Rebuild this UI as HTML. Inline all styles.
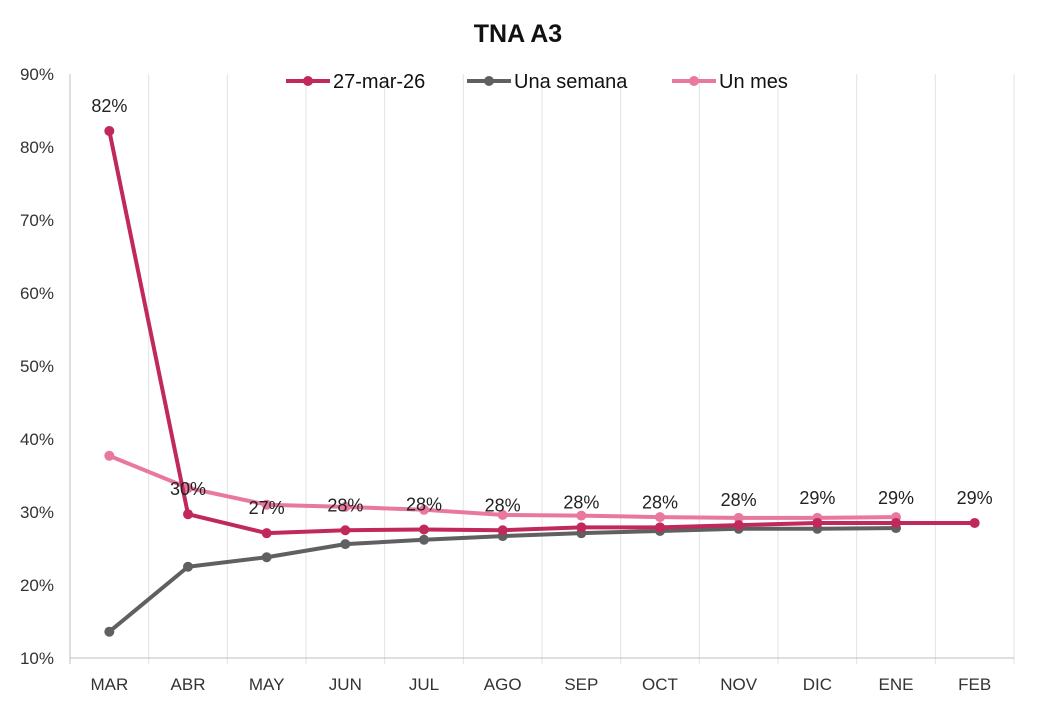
<!DOCTYPE html>
<html><head><meta charset="utf-8"><style>
body{margin:0;background:#fff;font-family:"Liberation Sans",sans-serif}
svg text{font-family:"Liberation Sans",sans-serif}
</style></head><body>
<svg id="c" width="1037" height="707" xmlns="http://www.w3.org/2000/svg">
<rect width="1037" height="707" fill="#fff"/>
<text x="518" y="42" text-anchor="middle" font-size="25" font-weight="bold" fill="#111">TNA A3</text>
<g id="grid"></g><g id="axes"></g><g id="series"></g><g id="labels"></g>
<g>
<g><line x1="286" y1="81" x2="330" y2="81" stroke="#C0295A" stroke-width="4"/><circle cx="308" cy="81" r="5" fill="#C0295A"/><text x="333" y="88" font-size="20" fill="#111">27-mar-26</text></g>
<g><line x1="467" y1="81" x2="511" y2="81" stroke="#606062" stroke-width="4"/><circle cx="489" cy="81" r="5" fill="#606062"/><text x="514" y="88" font-size="20" fill="#111">Una semana</text></g>
<g><line x1="672" y1="81" x2="716" y2="81" stroke="#E8789E" stroke-width="4"/><circle cx="694" cy="81" r="5" fill="#E8789E"/><text x="719" y="88" font-size="20" fill="#111">Un mes</text></g>
</g>
</svg>
<script>
const categories=["MAR","ABR","MAY","JUN","JUL","AGO","SEP","OCT","NOV","DIC","ENE","FEB"];
const serieHoy=[82.2,29.7,27.1,27.5,27.6,27.5,27.9,27.9,28.2,28.5,28.5,28.5];
const serieSemana=[13.6,22.5,23.8,25.6,26.2,26.7,27.1,27.4,27.7,27.7,27.8];
const serieMes=[37.7,33.3,31.0,30.7,30.3,29.6,29.5,29.3,29.2,29.2,29.3];
const yTicks=[10,20,30,40,50,60,70,80,90];
const NS="http://www.w3.org/2000/svg";
const L=70,R=1014,T=74,B=658,yMin=10,yMax=90;
const bw=(R-L)/categories.length;
const x=i=>L+bw*(i+0.5);
const y=v=>B-(v-yMin)/(yMax-yMin)*(B-T);
function mk(tag,a,p){const e=document.createElementNS(NS,tag);for(const k in a)e.setAttribute(k,a[k]);p.appendChild(e);return e;}
const grid=document.getElementById('grid'),axes=document.getElementById('axes');
for(let i=0;i<=categories.length;i++){const g=mk('line',{x1:L+bw*i,x2:L+bw*i,y1:T,y2:B+6,stroke:i==0?'#bfbfbf':'#e3e3e3','stroke-width':1},grid);

}
mk('line',{x1:L,x2:R,y1:B,y2:B,stroke:'#bfbfbf'},axes);
yTicks.forEach(t=>{const e=mk('text',{x:L-16,y:y(t)+6,'text-anchor':'end','font-size':17,fill:'#333'},axes);e.textContent=t+'%';

});
categories.forEach((c,i)=>{const e=mk('text',{x:x(i),y:690,'text-anchor':'middle','font-size':17,fill:'#333'},axes);e.textContent=c;

});
const ser=document.getElementById('series');
function draw(d,col,name){const g=mk('g',{},ser);


mk('polyline',{points:d.map((v,i)=>x(i)+','+y(v)).join(' '),fill:'none',stroke:col,'stroke-width':4,'stroke-linejoin':'round'},g);
d.forEach((v,i)=>{const p=mk('circle',{cx:x(i),cy:y(v),r:5,fill:col},g);

});}
draw(serieSemana,'#606062','una-semana');
draw(serieMes,'#E8789E','un-mes');
draw(serieHoy,'#C0295A','27-mar-26');
const lab=document.getElementById('labels');
serieHoy.forEach((v,i)=>{const e=mk('text',{x:x(i),y:y(v)-19,'text-anchor':'middle','font-size':18,fill:'#222'},lab);e.textContent=Math.round(v)+'%';

});
</script>
</body></html>
